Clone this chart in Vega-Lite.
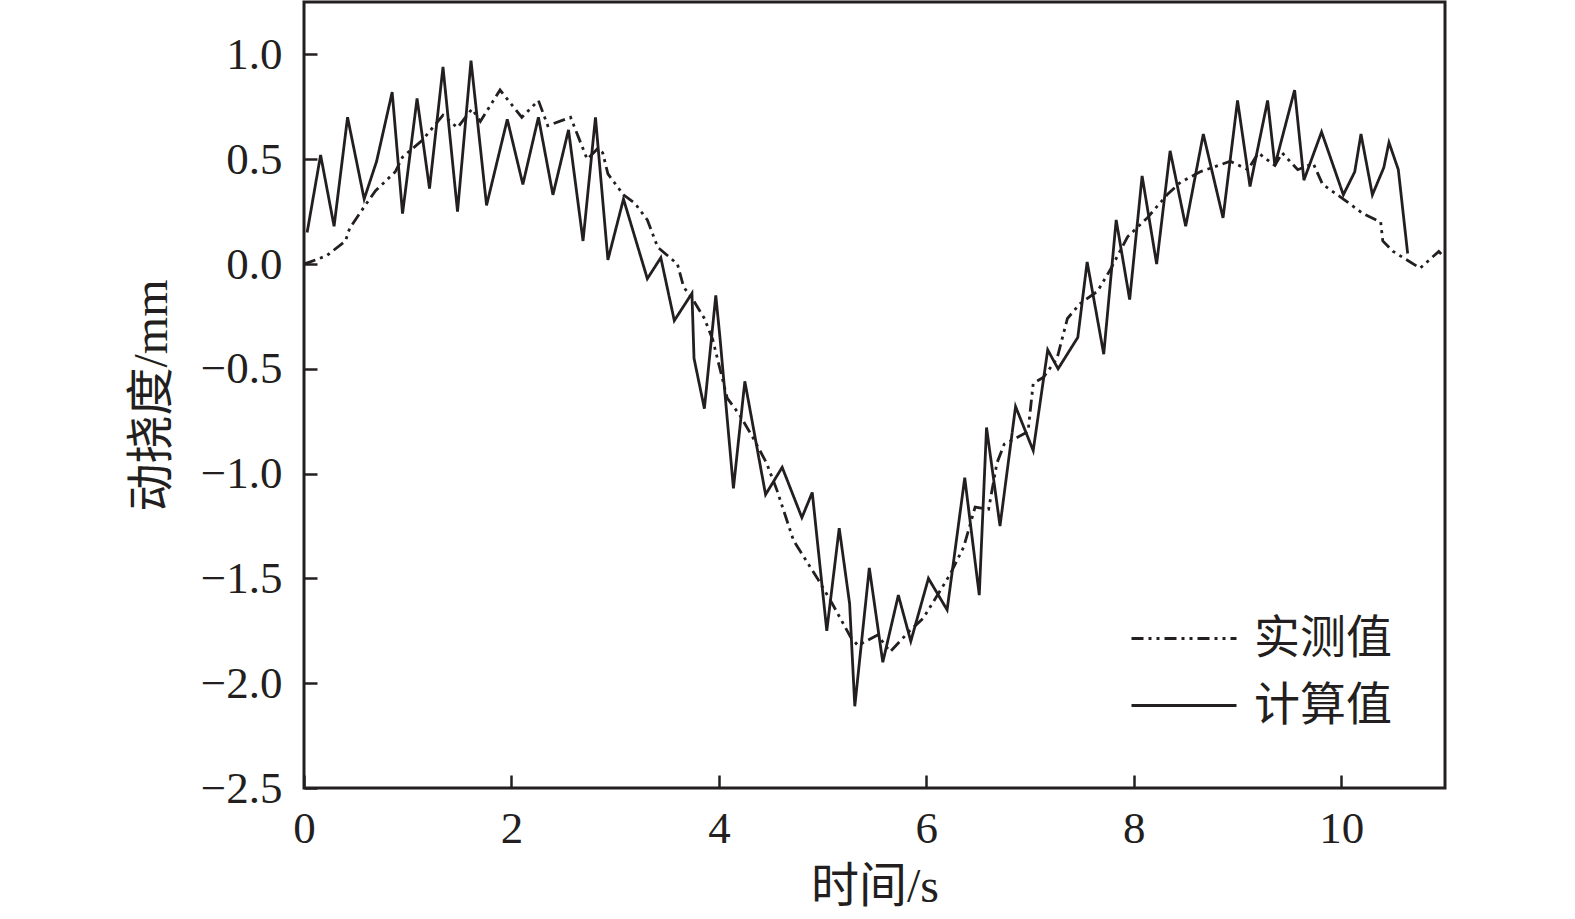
{
  "$schema": "https://vega.github.io/schema/vega-lite/v6.json",
  "autosize": {"type": "none"},
  "width": 1141,
  "height": 786,
  "padding": {"left": 304, "top": 2, "right": 130, "bottom": 131},
  "background": "white",
  "config": {
    "view": {"stroke": "#231f20", "strokeWidth": 3},
    "axis": {"grid": false, "domain": false, "tickColor": "#231f20", "tickWidth": 2.5, "tickSize": -13, "labelFlush": false,
      "labelFont": "Liberation Serif", "labelFontSize": 45, "labelColor": "#231f20",
      "titleFont": "Liberation Serif, Noto Sans CJK SC", "titleFontSize": 48, "titleFontWeight": "normal", "titleColor": "#231f20"},
    "legend": {"labelFont": "Liberation Serif, Noto Sans CJK SC", "labelFontSize": 46, "labelColor": "#231f20"}
  },
  "data": {"values": [
    {"t": 0.03, "v": 0.15, "s": "计算值"},
    {"t": 0.16, "v": 0.52, "s": "计算值"},
    {"t": 0.29, "v": 0.18, "s": "计算值"},
    {"t": 0.42, "v": 0.70, "s": "计算值"},
    {"t": 0.58, "v": 0.31, "s": "计算值"},
    {"t": 0.70, "v": 0.49, "s": "计算值"},
    {"t": 0.85, "v": 0.82, "s": "计算值"},
    {"t": 0.95, "v": 0.24, "s": "计算值"},
    {"t": 1.09, "v": 0.79, "s": "计算值"},
    {"t": 1.21, "v": 0.36, "s": "计算值"},
    {"t": 1.34, "v": 0.94, "s": "计算值"},
    {"t": 1.48, "v": 0.25, "s": "计算值"},
    {"t": 1.61, "v": 0.97, "s": "计算值"},
    {"t": 1.76, "v": 0.28, "s": "计算值"},
    {"t": 1.96, "v": 0.69, "s": "计算值"},
    {"t": 2.11, "v": 0.38, "s": "计算值"},
    {"t": 2.26, "v": 0.70, "s": "计算值"},
    {"t": 2.40, "v": 0.33, "s": "计算值"},
    {"t": 2.55, "v": 0.64, "s": "计算值"},
    {"t": 2.69, "v": 0.11, "s": "计算值"},
    {"t": 2.81, "v": 0.70, "s": "计算值"},
    {"t": 2.93, "v": 0.02, "s": "计算值"},
    {"t": 3.08, "v": 0.31, "s": "计算值"},
    {"t": 3.31, "v": -0.07, "s": "计算值"},
    {"t": 3.44, "v": 0.03, "s": "计算值"},
    {"t": 3.57, "v": -0.27, "s": "计算值"},
    {"t": 3.74, "v": -0.14, "s": "计算值"},
    {"t": 3.76, "v": -0.45, "s": "计算值"},
    {"t": 3.86, "v": -0.69, "s": "计算值"},
    {"t": 3.97, "v": -0.15, "s": "计算值"},
    {"t": 4.01, "v": -0.35, "s": "计算值"},
    {"t": 4.14, "v": -1.07, "s": "计算值"},
    {"t": 4.25, "v": -0.56, "s": "计算值"},
    {"t": 4.45, "v": -1.10, "s": "计算值"},
    {"t": 4.61, "v": -0.97, "s": "计算值"},
    {"t": 4.80, "v": -1.21, "s": "计算值"},
    {"t": 4.90, "v": -1.09, "s": "计算值"},
    {"t": 5.04, "v": -1.75, "s": "计算值"},
    {"t": 5.16, "v": -1.26, "s": "计算值"},
    {"t": 5.26, "v": -1.62, "s": "计算值"},
    {"t": 5.31, "v": -2.11, "s": "计算值"},
    {"t": 5.45, "v": -1.45, "s": "计算值"},
    {"t": 5.58, "v": -1.90, "s": "计算值"},
    {"t": 5.73, "v": -1.58, "s": "计算值"},
    {"t": 5.85, "v": -1.80, "s": "计算值"},
    {"t": 6.02, "v": -1.50, "s": "计算值"},
    {"t": 6.20, "v": -1.65, "s": "计算值"},
    {"t": 6.37, "v": -1.02, "s": "计算值"},
    {"t": 6.51, "v": -1.58, "s": "计算值"},
    {"t": 6.58, "v": -0.78, "s": "计算值"},
    {"t": 6.71, "v": -1.25, "s": "计算值"},
    {"t": 6.86, "v": -0.68, "s": "计算值"},
    {"t": 7.03, "v": -0.89, "s": "计算值"},
    {"t": 7.17, "v": -0.41, "s": "计算值"},
    {"t": 7.27, "v": -0.50, "s": "计算值"},
    {"t": 7.46, "v": -0.35, "s": "计算值"},
    {"t": 7.55, "v": 0.01, "s": "计算值"},
    {"t": 7.71, "v": -0.43, "s": "计算值"},
    {"t": 7.83, "v": 0.21, "s": "计算值"},
    {"t": 7.96, "v": -0.17, "s": "计算值"},
    {"t": 8.08, "v": 0.42, "s": "计算值"},
    {"t": 8.22, "v": 0.00, "s": "计算值"},
    {"t": 8.35, "v": 0.54, "s": "计算值"},
    {"t": 8.50, "v": 0.18, "s": "计算值"},
    {"t": 8.67, "v": 0.62, "s": "计算值"},
    {"t": 8.86, "v": 0.22, "s": "计算值"},
    {"t": 9.00, "v": 0.78, "s": "计算值"},
    {"t": 9.12, "v": 0.37, "s": "计算值"},
    {"t": 9.29, "v": 0.78, "s": "计算值"},
    {"t": 9.36, "v": 0.47, "s": "计算值"},
    {"t": 9.55, "v": 0.83, "s": "计算值"},
    {"t": 9.64, "v": 0.40, "s": "计算值"},
    {"t": 9.81, "v": 0.63, "s": "计算值"},
    {"t": 10.02, "v": 0.33, "s": "计算值"},
    {"t": 10.13, "v": 0.44, "s": "计算值"},
    {"t": 10.19, "v": 0.62, "s": "计算值"},
    {"t": 10.30, "v": 0.33, "s": "计算值"},
    {"t": 10.41, "v": 0.46, "s": "计算值"},
    {"t": 10.46, "v": 0.58, "s": "计算值"},
    {"t": 10.55, "v": 0.45, "s": "计算值"},
    {"t": 10.64, "v": 0.05, "s": "计算值"},
    {"t": 0.00, "v": 0.00, "s": "实测值"},
    {"t": 0.06, "v": 0.01, "s": "实测值"},
    {"t": 0.22, "v": 0.04, "s": "实测值"},
    {"t": 0.40, "v": 0.11, "s": "实测值"},
    {"t": 0.44, "v": 0.17, "s": "实测值"},
    {"t": 0.59, "v": 0.28, "s": "实测值"},
    {"t": 0.69, "v": 0.35, "s": "实测值"},
    {"t": 0.88, "v": 0.44, "s": "实测值"},
    {"t": 0.95, "v": 0.51, "s": "实测值"},
    {"t": 1.14, "v": 0.59, "s": "实测值"},
    {"t": 1.34, "v": 0.71, "s": "实测值"},
    {"t": 1.48, "v": 0.65, "s": "实测值"},
    {"t": 1.62, "v": 0.74, "s": "实测值"},
    {"t": 1.70, "v": 0.68, "s": "实测值"},
    {"t": 1.89, "v": 0.83, "s": "实测值"},
    {"t": 2.10, "v": 0.70, "s": "实测值"},
    {"t": 2.26, "v": 0.78, "s": "实测值"},
    {"t": 2.35, "v": 0.66, "s": "实测值"},
    {"t": 2.57, "v": 0.70, "s": "实测值"},
    {"t": 2.73, "v": 0.50, "s": "实测值"},
    {"t": 2.83, "v": 0.55, "s": "实测值"},
    {"t": 2.88, "v": 0.53, "s": "实测值"},
    {"t": 2.93, "v": 0.43, "s": "实测值"},
    {"t": 3.08, "v": 0.33, "s": "实测值"},
    {"t": 3.19, "v": 0.29, "s": "实测值"},
    {"t": 3.31, "v": 0.21, "s": "实测值"},
    {"t": 3.41, "v": 0.08, "s": "实测值"},
    {"t": 3.60, "v": 0.00, "s": "实测值"},
    {"t": 3.66, "v": -0.11, "s": "实测值"},
    {"t": 3.75, "v": -0.17, "s": "实测值"},
    {"t": 3.86, "v": -0.26, "s": "实测值"},
    {"t": 3.94, "v": -0.36, "s": "实测值"},
    {"t": 4.08, "v": -0.64, "s": "实测值"},
    {"t": 4.20, "v": -0.72, "s": "实测值"},
    {"t": 4.33, "v": -0.83, "s": "实测值"},
    {"t": 4.46, "v": -0.95, "s": "实测值"},
    {"t": 4.56, "v": -1.08, "s": "实测值"},
    {"t": 4.72, "v": -1.32, "s": "实测值"},
    {"t": 4.95, "v": -1.50, "s": "实测值"},
    {"t": 5.07, "v": -1.60, "s": "实测值"},
    {"t": 5.27, "v": -1.78, "s": "实测值"},
    {"t": 5.34, "v": -1.82, "s": "实测值"},
    {"t": 5.53, "v": -1.77, "s": "实测值"},
    {"t": 5.65, "v": -1.85, "s": "实测值"},
    {"t": 5.84, "v": -1.75, "s": "实测值"},
    {"t": 5.97, "v": -1.69, "s": "实测值"},
    {"t": 6.23, "v": -1.48, "s": "实测值"},
    {"t": 6.36, "v": -1.35, "s": "实测值"},
    {"t": 6.47, "v": -1.16, "s": "实测值"},
    {"t": 6.60, "v": -1.17, "s": "实测值"},
    {"t": 6.68, "v": -0.95, "s": "实测值"},
    {"t": 6.75, "v": -0.86, "s": "实测值"},
    {"t": 6.98, "v": -0.80, "s": "实测值"},
    {"t": 7.03, "v": -0.57, "s": "实测值"},
    {"t": 7.13, "v": -0.54, "s": "实测值"},
    {"t": 7.26, "v": -0.45, "s": "实测值"},
    {"t": 7.36, "v": -0.26, "s": "实测值"},
    {"t": 7.48, "v": -0.19, "s": "实测值"},
    {"t": 7.65, "v": -0.13, "s": "实测值"},
    {"t": 7.77, "v": -0.03, "s": "实测值"},
    {"t": 7.94, "v": 0.13, "s": "实测值"},
    {"t": 8.13, "v": 0.22, "s": "实测值"},
    {"t": 8.32, "v": 0.33, "s": "实测值"},
    {"t": 8.45, "v": 0.39, "s": "实测值"},
    {"t": 8.64, "v": 0.44, "s": "实测值"},
    {"t": 8.93, "v": 0.49, "s": "实测值"},
    {"t": 9.10, "v": 0.45, "s": "实测值"},
    {"t": 9.20, "v": 0.53, "s": "实测值"},
    {"t": 9.36, "v": 0.47, "s": "实测值"},
    {"t": 9.43, "v": 0.53, "s": "实测值"},
    {"t": 9.58, "v": 0.45, "s": "实测值"},
    {"t": 9.73, "v": 0.48, "s": "实测值"},
    {"t": 9.82, "v": 0.38, "s": "实测值"},
    {"t": 10.02, "v": 0.31, "s": "实测值"},
    {"t": 10.21, "v": 0.24, "s": "实测值"},
    {"t": 10.38, "v": 0.20, "s": "实测值"},
    {"t": 10.40, "v": 0.11, "s": "实测值"},
    {"t": 10.50, "v": 0.06, "s": "实测值"},
    {"t": 10.76, "v": -0.02, "s": "实测值"},
    {"t": 10.94, "v": 0.06, "s": "实测值"},
    {"t": 11.00, "v": 0.03, "s": "实测值"}
  ]},
  "mark": {"type": "line", "strokeWidth": 2.8, "clip": true},
  "encoding": {
    "x": {"field": "t", "type": "quantitative", "scale": {"domain": [0, 11], "nice": false},
      "axis": {"values": [0, 2, 4, 6, 8, 10], "labelPadding": 31, "title": "时间/s", "titlePadding": 12}},
    "y": {"field": "v", "type": "quantitative", "scale": {"domain": [-2.5, 1.25], "nice": false},
      "axis": {"values": [-2.5, -2.0, -1.5, -1.0, -0.5, 0.0, 0.5, 1.0], "format": ".1f", "labelPadding": 35, "title": "动挠度/mm", "titlePadding": 24}},
    "color": {"field": "s", "type": "nominal", "scale": {"domain": ["实测值", "计算值"], "range": ["#231f20", "#231f20"]},
      "legend": {"title": null, "orient": "none", "legendX": 826, "legendY": 603, "symbolType": "stroke", "symbolSize": 11025, "symbolStrokeWidth": 2.8, "labelOffset": 16, "clipHeight": 67, "rowPadding": 0, "padding": 0}},
    "strokeDash": {"field": "s", "type": "nominal", "scale": {"domain": ["实测值", "计算值"], "range": [[12, 5, 3, 5, 3, 5], [1, 0]]},
      "legend": {"title": null, "orient": "none", "legendX": 826, "legendY": 603, "symbolType": "stroke", "symbolSize": 11025, "symbolStrokeWidth": 2.8, "labelOffset": 16, "clipHeight": 67, "rowPadding": 0, "padding": 0}}
  }
}
